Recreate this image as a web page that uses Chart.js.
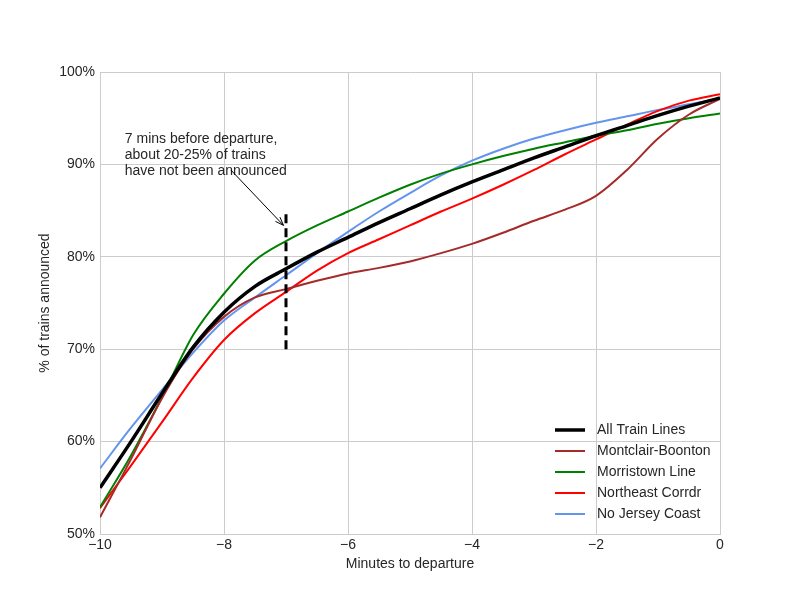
<!DOCTYPE html>
<html>
<head>
<meta charset="utf-8">
<script src="https://cdn.jsdelivr.net/npm/chart.js@4.4.1/dist/chart.umd.min.js"></script>
<style>
  body { margin: 0; background: #fff; }
  canvas { display: block; }
</style>
</head>
<body>
<canvas id="myChart" width="800" height="600"></canvas>
<script>
// minutes to departure
const minutes = [-10, -9.5, -9, -8.5, -8, -7.5, -7, -6.5, -6, -5.5, -5, -4.5, -4, -3.5, -3, -2.5, -2, -1.5, -1, -0.5, 0];

// % of trains announced, per line
const allLines   = [55.0, 60.0, 65.2, 70.2, 74.0, 76.8, 78.7, 80.5, 82.1, 83.7, 85.2, 86.7, 88.1, 89.4, 90.7, 91.9, 93.1, 94.2, 95.3, 96.3, 97.2];
const montclair  = [51.8, 58.1, 64.7, 70.0, 73.5, 75.6, 76.5, 77.4, 78.2, 78.8, 79.5, 80.4, 81.4, 82.6, 83.9, 85.1, 86.6, 89.4, 92.8, 95.4, 97.1];
const morristown = [52.9, 58.5, 64.8, 71.5, 76.0, 79.6, 81.7, 83.4, 84.9, 86.4, 87.8, 89.0, 90.0, 90.9, 91.7, 92.4, 93.1, 93.7, 94.4, 95.0, 95.5];
const northeast  = [52.8, 57.4, 62.1, 66.9, 71.0, 73.9, 76.2, 78.5, 80.4, 81.9, 83.4, 84.9, 86.3, 87.8, 89.4, 91.1, 92.7, 94.3, 95.8, 96.9, 97.6];
const jersey     = [57.1, 61.5, 65.6, 69.6, 73.1, 75.6, 78.0, 80.4, 82.7, 84.9, 86.9, 88.8, 90.4, 91.7, 92.8, 93.7, 94.5, 95.2, 95.9, 96.5, 97.1];

const seriesNames = ['All Train Lines', 'Montclair-Boonton', 'Morristown Line', 'Northeast Corrdr', 'No Jersey Coast'];
const seriesColors = ['#000000', '#a52a2a', '#008000', '#ff0000', '#6495ed'];
const seriesWidths = [3.5, 2, 2, 2, 2];
const seriesData = [allLines, montclair, morristown, northeast, jersey];

// annotation: dashed marker at 7 minutes, arrow and note
const markerX = [-7, -7];
const markerY = [70, 85];
const noteLines = ['7 mins before departure,', 'about 20-25% of trains', 'have not been announced'];
const notePos = { x: -9.6, y: 93.5 };
const arrowFrom = { x: -7.89, y: 89.4 };
const arrowTo = { x: -7.04, y: 83.4 };

const FONT = '"Liberation Sans", Arial, sans-serif';
const TEXT = '#262626';
const GRID = '#cccccc';

const datasets = seriesData.map((vals, i) => ({
  label: seriesNames[i],
  data: minutes.map((m, j) => ({ x: m, y: vals[j] })),
  borderColor: seriesColors[i],
  borderWidth: seriesWidths[i],
  pointRadius: 0,
  fill: false,
  cubicInterpolationMode: 'monotone',
  order: i === 0 ? 1 : 2
}));

datasets.push({
  label: 'marker',
  data: markerX.map((m, j) => ({ x: m, y: markerY[j] })),
  borderColor: '#000',
  borderWidth: 3,
  borderDash: [9, 5],
  pointRadius: 0,
  fill: false,
  order: 0
});

const notePlugin = {
  id: 'note',
  afterDatasetsDraw(chart) {
    const ctx = chart.ctx;
    const xs = chart.scales.x, ys = chart.scales.y;
    ctx.save();
    ctx.fillStyle = TEXT;
    ctx.font = '14px ' + FONT;
    ctx.textBaseline = 'top';
    const tx = xs.getPixelForValue(notePos.x);
    const ty = ys.getPixelForValue(notePos.y);
    noteLines.forEach((t, i) => ctx.fillText(t, tx, ty + i * 16));

    const x1 = xs.getPixelForValue(arrowFrom.x), y1 = ys.getPixelForValue(arrowFrom.y);
    const x2 = xs.getPixelForValue(arrowTo.x), y2 = ys.getPixelForValue(arrowTo.y);
    ctx.strokeStyle = '#000';
    ctx.lineWidth = 1;
    ctx.beginPath();
    ctx.moveTo(x1, y1);
    ctx.lineTo(x2, y2);
    const a = Math.atan2(y2 - y1, x2 - x1);
    ctx.moveTo(x2 - 9 * Math.cos(a - 0.35), y2 - 9 * Math.sin(a - 0.35));
    ctx.lineTo(x2, y2);
    ctx.lineTo(x2 - 9 * Math.cos(a + 0.35), y2 - 9 * Math.sin(a + 0.35));
    ctx.stroke();

    // legend, lower right inside the axes
    const ca = chart.chartArea;
    const lx = ca.right - 165, ly0 = ca.bottom - 104, step = 21;
    seriesNames.forEach((name, i) => {
      const y = ly0 + i * step;
      ctx.strokeStyle = seriesColors[i];
      ctx.lineWidth = seriesWidths[i];
      ctx.beginPath();
      ctx.moveTo(lx, y);
      ctx.lineTo(lx + 30, y);
      ctx.stroke();
      ctx.textBaseline = 'middle';
      ctx.fillStyle = TEXT;
      ctx.fillText(name, lx + 42, y);
    });
    ctx.restore();
  }
};

const bgPlugin = {
  id: 'bg',
  beforeDraw(chart) {
    const ctx = chart.ctx;
    ctx.save();
    ctx.fillStyle = '#fff';
    ctx.fillRect(0, 0, chart.width, chart.height);
    ctx.restore();
  }
};

const ctx = document.querySelector('#myChart').getContext('2d');
const myChart = new Chart(ctx, {
  type: 'line',
  data: { datasets: datasets },
  plugins: [bgPlugin, notePlugin],
  options: {
    responsive: false,
    animation: false,
    layout: { padding: { left: 37, right: 80, top: 72, bottom: 27 } },
    plugins: {
      legend: { display: false },
      tooltip: { enabled: false }
    },
    scales: {
      x: {
        type: 'linear',
        min: -10,
        max: 0,
        ticks: {
          stepSize: 2,
          color: TEXT,
          font: { family: FONT, size: 14 },
          padding: 3,
          callback: v => String(v).replace('-', '\u2212')
        },
        grid: { color: GRID, lineWidth: 1, drawTicks: false },
        border: { color: GRID, width: 1 },
        title: {
          display: true,
          text: 'Minutes to departure',
          color: TEXT,
          font: { family: FONT, size: 14 },
          padding: { top: 2, bottom: 0 }
        },
        afterFit: s => { s.height = 39; }
      },
      y: {
        min: 50,
        max: 100,
        ticks: {
          stepSize: 10,
          color: TEXT,
          font: { family: FONT, size: 14 },
          padding: 5,
          callback: v => v + '%'
        },
        grid: { color: GRID, lineWidth: 1, drawTicks: false },
        border: { color: GRID, width: 1 },
        title: {
          display: true,
          text: '% of trains announced',
          color: TEXT,
          font: { family: FONT, size: 14 },
          padding: { top: 0, bottom: 6 }
        },
        afterFit: s => { s.width = 63; }
      }
    }
  }
});
</script>
</body>
</html>
